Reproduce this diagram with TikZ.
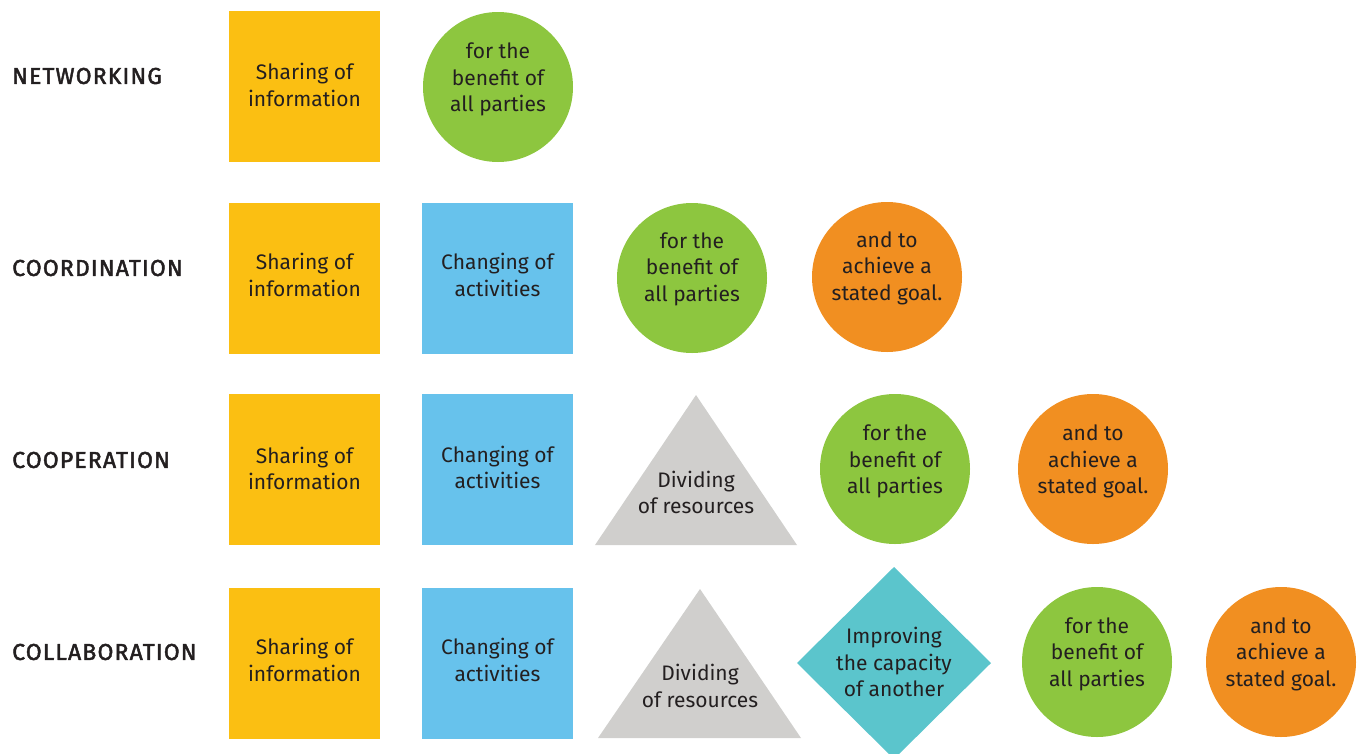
\documentclass[tikz,border=0pt]{standalone}
\usepackage{fontspec}
\usetikzlibrary{calc}
\setmainfont{Fira Sans}
\newfontfamily\labelfont{Fira Sans}[FakeBold=2, LetterSpace=5]
\definecolor{ink}{HTML}{231F20}
\definecolor{sunyellow}{HTML}{FBBF12}
\definecolor{skyblue}{HTML}{67C2EC}
\definecolor{leafgreen}{HTML}{8DC63F}
\definecolor{tangerine}{HTML}{F18F21}
\definecolor{stone}{HTML}{D0CFCD}
\definecolor{teal}{HTML}{5BC5CC}
\tikzset{
  rowlabel/.style={anchor=west, inner sep=0pt, text=ink, font=\labelfont\fontsize{23}{27}\selectfont},
  boxtext/.style={align=center, inner sep=0pt, text=ink, font=\fontsize{21}{26.5}\selectfont},
  sharebox/.style={rectangle, fill=sunyellow, minimum size=151pt, inner sep=0pt},
  changebox/.style={rectangle, fill=skyblue, minimum size=151pt, inner sep=0pt},
  benefitdot/.style={circle, fill=leafgreen, minimum size=150pt, inner sep=0pt},
  goaldot/.style={circle, fill=tangerine, minimum size=150pt, inner sep=0pt},
}
\begin{document}
\begin{tikzpicture}[x=1pt, y=-1pt]
\useasboundingbox (0,0) rectangle (1361,753);
\clip (0,0) rectangle (1361,753);

% ---- row labels
\node[rowlabel] (lnet)  at (12,76)  {NETWORKING};
\node[rowlabel] (lcoor) at (12,268) {COORDINATION};
\node[rowlabel] (lcoop) at (12,460) {COOPERATION};
\node[rowlabel] (lcoll) at (12,652) {COLLABORATION};

% ---- networking
\node[sharebox] (s1) at (304.5,86) {};
\node[boxtext] at ($(s1)+(0,-1)$) {Sharing of\\information};
\node[benefitdot] (g1) at (498,87) {};
\node[boxtext] at ($(g1)+(0,-7.5)$) {for the\\benefit of\\all parties};

% ---- coordination
\node[sharebox] (s2) at (304.5,278) {};
\node[boxtext] at ($(s2)+(0,-3)$) {Sharing of\\information};
\node[changebox] (c2) at (497.5,278) {};
\node[boxtext] at ($(c2)+(0,-3)$) {Changing of\\activities};
\node[benefitdot] (g2) at (692,278) {};
\node[boxtext] at ($(g2)+(0,-9)$) {for the\\benefit of\\all parties};
\node[goaldot] (o2) at (887,277) {};
\node[boxtext] at ($(o2)+(0,-9)$) {and to\\achieve a\\stated goal.};

% ---- cooperation
\node[sharebox] (s3) at (304.5,469.5) {};
\node[boxtext] at ($(s3)+(0,-1)$) {Sharing of\\information};
\node[changebox] (c3) at (497.5,469.5) {};
\node[boxtext] at ($(c3)+(0,-2)$) {Changing of\\activities};
\fill[stone] (595,545) -- (696,395) -- (797,545) -- cycle;
\coordinate (t3) at (696,492.5);
\node[boxtext] at (t3) {Dividing\\of resources};
\node[benefitdot] (g3) at (895,469) {};
\node[boxtext] at ($(g3)+(0,-7.5)$) {for the\\benefit of\\all parties};
\node[goaldot] (o3) at (1093,469) {};
\node[boxtext] at ($(o3)+(0,-7.5)$) {and to\\achieve a\\stated goal.};

% ---- collaboration
\node[sharebox] (s4) at (304.5,663) {};
\node[boxtext] at ($(s4)+(0,-3)$) {Sharing of\\information};
\node[changebox] (c4) at (497.5,663) {};
\node[boxtext] at ($(c4)+(0,-3)$) {Changing of\\activities};
\fill[stone] (598,738) -- (700,589) -- (801,738) -- cycle;
\coordinate (t4) at (700,686);
\node[boxtext] at (t4) {Dividing\\of resources};
\fill[teal] (797,663) -- (894,567) -- (991,663) -- (894,759) -- cycle;
\coordinate (d4) at (894,662);
\node[boxtext] at (d4) {Improving\\the capacity\\of another};
\node[benefitdot] (g4) at (1097,662) {};
\node[boxtext] at ($(g4)+(0,-8)$) {for the\\benefit of\\all parties};
\node[goaldot] (o4) at (1281,662) {};
\node[boxtext] at ($(o4)+(0,-8)$) {and to\\achieve a\\stated goal.};
\end{tikzpicture}
\end{document}
